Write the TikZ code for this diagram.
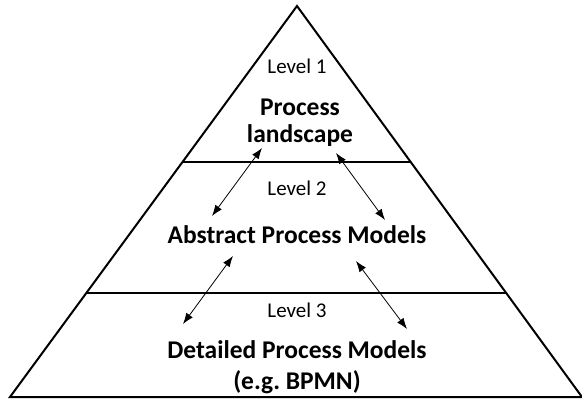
\documentclass[tikz,border=0pt]{standalone}
\usepackage{fontspec}
\setmainfont{Carlito}
\usetikzlibrary{arrows.meta,calc}
\tikzset{>={Latex[width=8pt,length=11pt]}}
\tikzset{
  lvl/.style={font=\fontsize{21}{24}\selectfont, inner sep=0pt, anchor=base},
  ttl/.style={font=\fontsize{25.5}{30}\selectfont\bfseries, inner sep=0pt, anchor=base},
  link/.style={<->, line width=0.8pt},
  rim/.style={line width=2pt},
}

\begin{document}
\frenchspacing
\begin{tikzpicture}[x=1pt,y=-1pt]

  \useasboundingbox (0,0) rectangle (582,401);

  %% <pyramid>
  \coordinate (apex) at (297,6);
  \coordinate (bl) at (10,397);
  \coordinate (br) at (582,397);
  \draw[rim, line join=miter] (apex) -- (br) -- (bl) -- cycle;
  \draw[rim] ($(apex)!0.399!(bl)$) -- ($(apex)!0.399!(br)$); % 1|2
  \draw[rim] ($(apex)!0.734!(bl)$) -- ($(apex)!0.734!(br)$); % 2|3
  % </pyramid>

  \node[lvl] (lvlone)   at (297,73.5) {Level 1};
  \node[ttl] (procA)    at (300,116)  {Process};
  \node[ttl] (procB)    at (300,143)  {landscape};
  \node[lvl] (lvltwo)   at (297,196)  {Level 2};
  \node[ttl] (abstract) at (297,243.5) {Abstract Process Models};
  \node[lvl] (lvlthree) at (297,318)  {Level 3};
  \node[ttl] (detailA)  at (297,359)  {Detailed Process Models};
  \node[ttl] (detailB)  at (297,389)  {(e.g. BPMN)};

  \coordinate (upL) at (262,148);  \coordinate (midL) at (212,216);
  \coordinate (upR) at (336,153);  \coordinate (midR) at (385,220);
  \coordinate (lowL) at (233,256); \coordinate (botL) at (183,324);
  \coordinate (lowR) at (356,261); \coordinate (botR) at (407,329);

  \draw[link] (midL) -- (upL);  % 2<->1
  \draw[link] (upR) -- (midR);  % 1<->2
  \draw[link] (lowL) -- (botL); % 2<->3
  \draw[link] (lowR) -- (botR); % 2<->3

\end{tikzpicture}
\end{document}
